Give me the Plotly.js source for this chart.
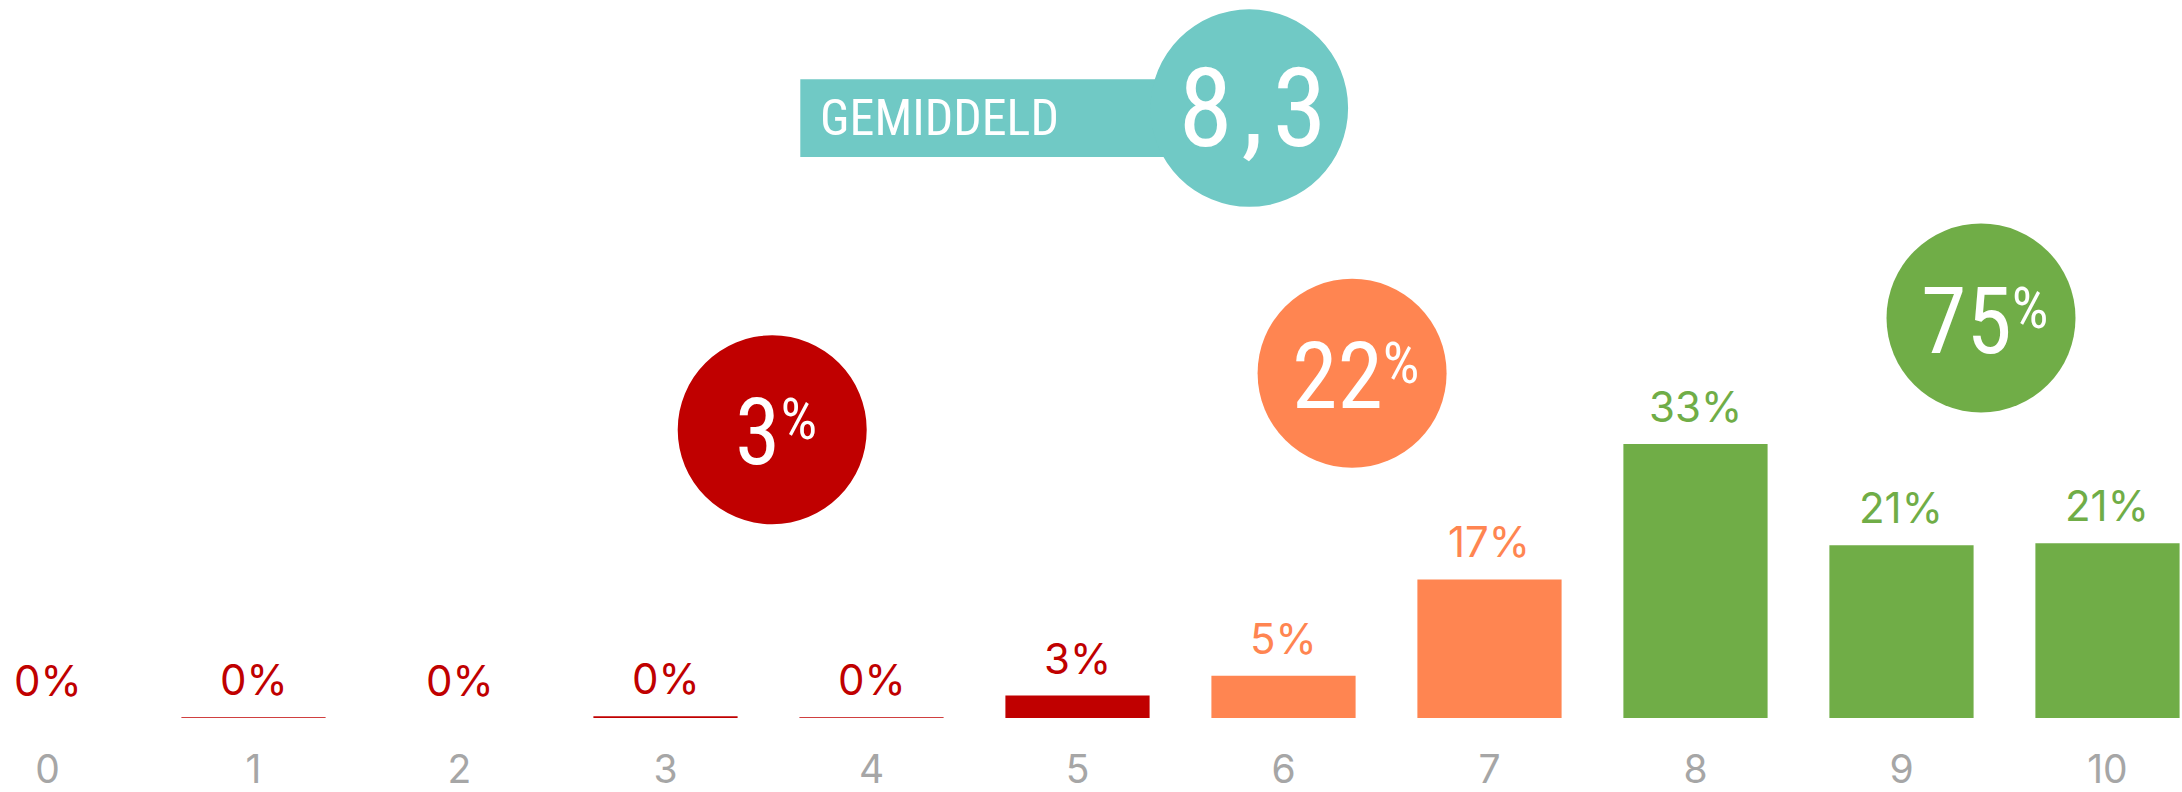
<!DOCTYPE html>
<html><head><meta charset="utf-8">
<script src="https://cdn.plot.ly/plotly-3.0.1.min.js"></script>
<style>
html,body{margin:0;padding:0;background:#fff;overflow:hidden}
#chart{width:2182px;height:792px}
#chart .annotation[data-index="15"] text{letter-spacing:9px}
</style>
</head><body><div id="chart"></div>
<script>
// ---- data ----
const scores = [0, 1, 2, 3, 4, 5, 6, 7, 8, 9, 10];
const tickLabels = ['0', '1', '2', '3', '4', '5', '6', '7', '8', '9', '10'];
const shares = [0, 0.1, 0, 0.2, 0.1, 2.7, 5.1, 16.7, 33, 20.8, 21.05];
const shareLabels = ['0%', '0%', '0%', '0%', '0%', '3%', '5%', '17%', '33%', '21%', '21%'];
const groupOfScore = [0, 0, 0, 0, 0, 0, 1, 1, 2, 2, 2];
const groupTotals = ['3', '22', '75'];
const averageLabel = 'GEMIDDELD';
const averageValue = '8,3';

// ---- style ----
const groupColors = ['#C00000', '#FF8551', '#70AD47'];
const TEAL = '#70C9C5';
const GREY = '#A6A6A6';
const LABEL_FONT = 'Inter, "Noto Sans", sans-serif';
const BADGE_FONT = '"Roboto Condensed", "DejaVu Sans Condensed", sans-serif';
const circleAnchors = [[3.518, 34.72], [6.333, 41.53], [9.386, 48.19]];
const avgAnchor = [5.834, 73.48];
const R = 94.5, RT = 98.8;

const barColors = scores.map((s, i) => groupColors[groupOfScore[i]]);

const trace = {
  type: 'bar', x: scores, y: shares,
  marker: {color: barColors, line: {width: 0}},
  hoverinfo: 'skip', showlegend: false
};

const shapes = [];
const annotations = [];

scores.forEach((s, i) => {
  annotations.push({
    x: s, y: shares[i], xref: 'x', yref: 'y', text: shareLabels[i], showarrow: false,
    xanchor: 'center', yanchor: 'bottom', yshift: 10,
    font: {family: LABEL_FONT, size: 42, color: groupColors[groupOfScore[i]]}
  });
});

circleAnchors.forEach((c, g) => {
  shapes.push({
    type: 'circle', xref: 'x', yref: 'y', xsizemode: 'pixel', ysizemode: 'pixel',
    xanchor: c[0], yanchor: c[1], x0: -R, x1: R, y0: -R, y1: R,
    fillcolor: groupColors[g], line: {width: 0}
  });
  annotations.push({
    x: c[0], y: c[1], xref: 'x', yref: 'y', showarrow: false,
    text: '<span style="font-size:92px">' + groupTotals[g] + '</span><sup><span style="font-size:58px">%</span></sup>',
    xanchor: 'center', yanchor: 'middle', xshift: 4, yshift: -3,
    font: {family: BADGE_FONT, size: 60, color: '#FFFFFF'}
  });
});

// average badge
shapes.push({
  type: 'rect', xref: 'x', yref: 'y', xsizemode: 'pixel', ysizemode: 'pixel',
  xanchor: avgAnchor[0], yanchor: avgAnchor[1], x0: -449, x1: 0, y0: -48.9, y1: 28.9,
  fillcolor: TEAL, line: {width: 0}
});
shapes.push({
  type: 'circle', xref: 'x', yref: 'y', xsizemode: 'pixel', ysizemode: 'pixel',
  xanchor: avgAnchor[0], yanchor: avgAnchor[1], x0: -RT, x1: RT, y0: -RT, y1: RT,
  fillcolor: TEAL, line: {width: 0}
});
annotations.push({
  x: avgAnchor[0], y: avgAnchor[1], xref: 'x', yref: 'y', showarrow: false,
  text: averageLabel, xanchor: 'left', yanchor: 'middle', xshift: -431, yshift: -10,
  font: {family: BADGE_FONT, size: 50, color: '#FFFFFF'}
});
annotations.push({
  x: avgAnchor[0], y: avgAnchor[1], xref: 'x', yref: 'y', showarrow: false,
  text: averageValue, xanchor: 'center', yanchor: 'middle', xshift: 8, yshift: 0,
  font: {family: BADGE_FONT, size: 110, color: '#FFFFFF'}
});

const layout = {
  width: 2182, height: 792,
  margin: {l: 0, r: 0, t: 0, b: 74, pad: 0},
  paper_bgcolor: '#FFFFFF', plot_bgcolor: '#FFFFFF',
  bargap: 0.3,
  xaxis: {
    type: 'linear', range: [-0.2306, 10.3617], tickmode: 'array', tickvals: scores, ticktext: tickLabels,
    showgrid: false, zeroline: false, showline: false, ticks: '', ticklabelstandoff: 25,
    tickfont: {family: LABEL_FONT, size: 39, color: GREY}, fixedrange: true
  },
  yaxis: {range: [0, 86.5], visible: false, showgrid: false, zeroline: false, fixedrange: true},
  shapes: shapes, annotations: annotations,
  hovermode: false, showlegend: false
};

Plotly.newPlot('chart', [trace], layout, {displayModeBar: false, staticPlot: true});
</script>
</body></html>
